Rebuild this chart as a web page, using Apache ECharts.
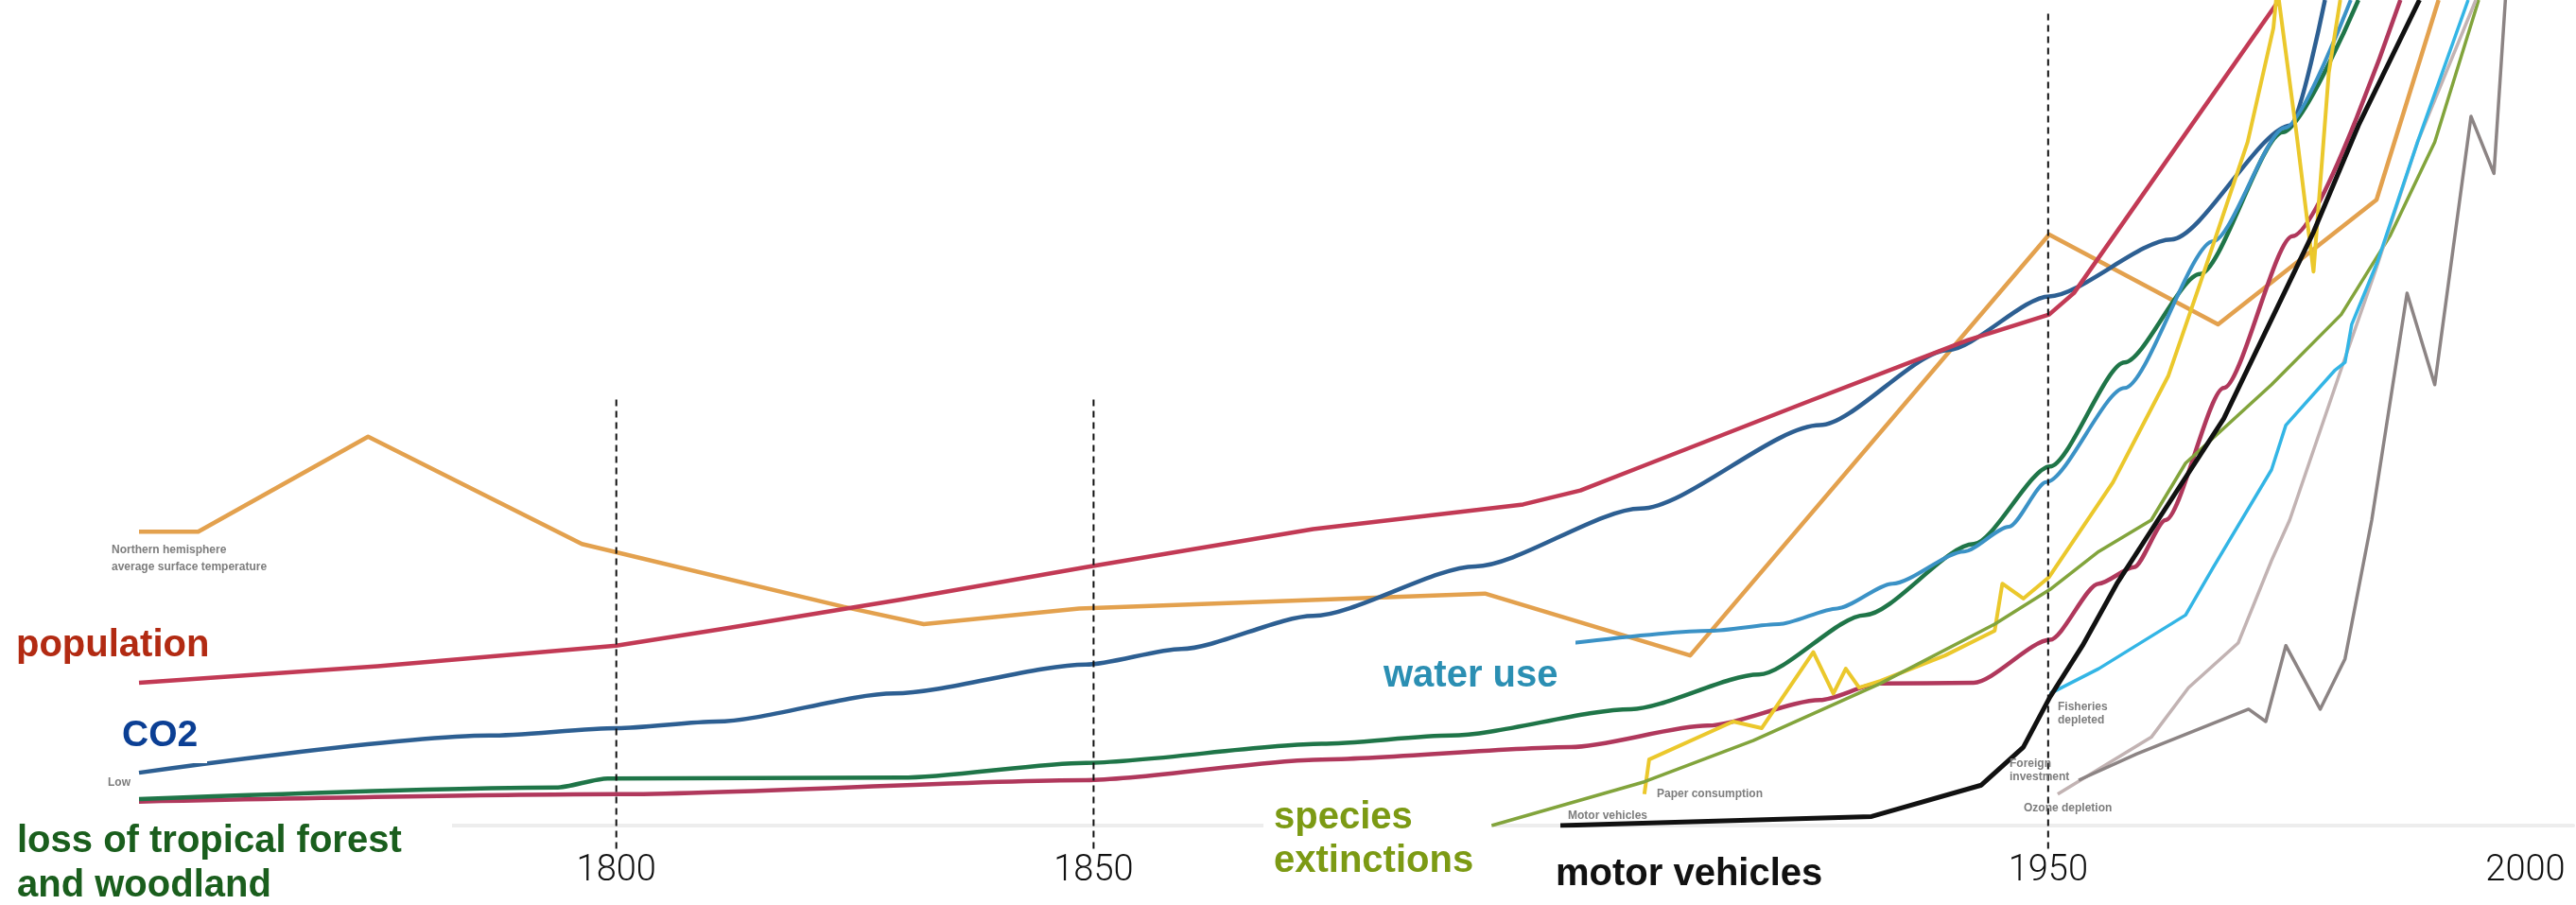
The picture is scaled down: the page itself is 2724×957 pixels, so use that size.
<!DOCTYPE html>
<html>
<head>
<meta charset="utf-8">
<script src="https://cdn.jsdelivr.net/npm/echarts@6/dist/echarts.min.js"></script>
<style>
  html, body { margin: 0; padding: 0; background: #fff; }
  #chart { width: 2724px; height: 957px; }
</style>
</head>
<body>
<div id="chart"></div>
<script>
// values are [year, index]; index 0 = baseline, 100 = top edge
const temperature = [[1750, 35.6], [1756.2, 35.6], [1774, 47.1], [1796.4, 34.1], [1823.8, 26.5], [1832.2, 24.4],
  [1848.5, 26.3], [1891, 28.1], [1912.5, 20.6], [1950.1, 71.6], [1967.8, 60.7], [1984.4, 75.8], [1990.9, 100]];
const population = [[1750, 17.3], [1775, 19.3], [1800, 21.8], [1811, 23.8], [1830, 27.4], [1849.2, 31.3], [1873, 35.9],
  [1895, 38.9], [1901, 40.6], [1907, 43.3], [1924.5, 51.2], [1941.6, 58.8], [1950.1, 61.9], [1952.7, 64.5], [1974.2, 100]];
const co2 = [[1750, 6.4], [1786.7, 10.9], [1800.1, 11.8], [1810.5, 12.6], [1829.1, 16.0], [1849.2, 19.5], [1859.2, 21.4],
  [1873, 25.4], [1890, 31.4], [1907.3, 38.4], [1926.1, 48.5], [1939.5, 57.6], [1950.1, 64.1], [1962.9, 71.0],
  [1975.4, 84.8], [1979, 100]];
const forestLoss = [[1750, 3.2], [1793.7, 4.6], [1799.1, 5.7], [1829.9, 5.8], [1849.2, 7.6], [1873.9, 9.9], [1887.4, 10.9],
  [1906.3, 14.1], [1919.7, 18.3], [1930.8, 25.5], [1942.2, 34.1], [1950.2, 43.5], [1958, 56.1], [1965.9, 66.8],
  [1974.6, 84.0], [1982.5, 100]];
const gdp = [[1750, 2.9], [1800.1, 3.8], [1849.2, 5.5], [1873.9, 8.0], [1900, 9.5], [1914.3, 12.1], [1926.1, 15.2],
  [1932.3, 17.2], [1942.2, 17.3], [1950.2, 22.5], [1955.3, 29.3], [1959, 31.3], [1962.3, 37.0], [1968.4, 53.0],
  [1975.6, 71.4], [1986.9, 100]];
const waterUse = [[1900.1, 22.1], [1914.7, 23.6], [1921.8, 24.4], [1927.9, 26.3], [1933.7, 29.3], [1941.2, 33.2],
  [1945.9, 36.2], [1949.8, 41.6], [1958, 53.0], [1967.3, 70.8], [1974.8, 84.5], [1981.7, 100]];
const paper = [[1907.7, 3.8], [1908.2, 8.0], [1917, 12.6], [1920, 11.8], [1925.4, 21.0], [1927.5, 16.0], [1928.8, 19.0],
  [1930.2, 16.7], [1932.4, 17.5], [1939.2, 20.6], [1944.4, 23.6], [1945.2, 29.3], [1947.4, 27.5], [1950.1, 30.1],
  [1956.8, 41.6], [1962.6, 54.5], [1965.9, 65.6], [1970.9, 82.8], [1973.6, 96.6], [1974, 101.5], [1976, 84.0],
  [1977.8, 67.1], [1979.4, 91.2], [1980.6, 100]];
const extinctions = [[1891.7, 0], [1907.7, 5.3], [1919.1, 10.3], [1932.4, 17.2], [1944.4, 24.4], [1950.2, 28.6],
  [1955.3, 33.2], [1960.8, 37.0], [1964.4, 43.9], [1973.4, 53.4], [1980.7, 61.9], [1985.8, 71.4], [1990.5, 82.8],
  [1995.1, 100]];
const motorVehicles = [[1898.9, 0], [1931.5, 1.1], [1943, 4.9], [1947.4, 9.5], [1950.2, 15.6], [1953.6, 21.8],
  [1957.2, 29.3], [1961.5, 37.0], [1968.4, 49.3], [1977.8, 71.9], [1982.5, 84.8], [1988.9, 100]];
const fisheries = [[1950.2, 16.0], [1955.3, 19.0], [1964.4, 25.5], [1967.3, 31.3], [1973.4, 43.1], [1974.9, 48.5],
  [1980, 55.1], [1981.1, 56.1], [1981.8, 60.7], [1984.5, 68.3], [1988.7, 82.8], [1994, 100]];
const ozone = [[1951, 3.8], [1960.8, 10.7], [1964.7, 16.7], [1969.9, 22.1], [1973.4, 32.1], [1975.3, 37.0],
  [1980.7, 55.3], [1984.4, 67.6], [1988.7, 82.8], [1994.8, 100]];
const investment = [[1953.2, 5.5], [1959.3, 8.7], [1971, 14.1], [1972.8, 12.6], [1974.9, 21.8], [1978.5, 14.1],
  [1981.1, 20.2], [1983.9, 37.0], [1987.6, 64.5], [1990.5, 53.4], [1994.3, 85.9], [1996.7, 79.0], [1997.9, 100]];

const tickLabels = [1800, 1850, 1950, 2000];
const markerYears = [1800, 1850, 1950];
const markerTops = [51.8, 51.8, 98.6];
const markerBottom = -2.8;

let chart = echarts.init(document.getElementById("chart"));

function line(name, data, color, width, smooth) {
  return {
    name: name,
    type: "line",
    data: data,
    showSymbol: false,
    smooth: smooth ? 0.25 : false,
    smoothMonotone: "x",
    lineStyle: { color: color, width: width, join: "round" },
    z: 3,
  };
}

let series = [
  line("temperature", temperature, "#e3a14e", 4.5, false),
  line("gdp", gdp, "#b0385c", 4.5, true),
  line("forest", forestLoss, "#1f7548", 4.5, true),
  line("co2", co2, "#2d5f92", 4.5, true),
  line("population", population, "#c23a55", 4.5, false),
  line("water", waterUse, "#3b92c6", 4, true),
  line("paper", paper, "#ebc82c", 4, false),
  line("extinctions", extinctions, "#82a43c", 3.5, false),
  line("ozone", ozone, "#c2b3b3", 3.5, false),
  line("investment", investment, "#8c8484", 3.5, false),
  line("fisheries", fisheries, "#33b5e5", 3.5, false),
  line("motor", motorVehicles, "#111111", 5, false),
];

// dotted year markers
markerYears.forEach((yr, i) => {
  series.push({
    type: "line",
    data: [[yr, markerBottom], [yr, markerTops[i]]],
    showSymbol: false,
    clip: false,
    silent: true,
    lineStyle: { color: "#111", width: 2, type: [7, 5] },
    z: 4,
  });
});

function box(x, y, w, h) {
  return { type: "rect", shape: { x: x, y: y, width: w, height: h }, style: { fill: "#fff" }, z: 100 };
}
function label(x, y, text, color, size) {
  return {
    type: "text", x: x, y: y, z: 101,
    style: {
      text: text, fill: color, align: "left", verticalAlign: "middle",
      font: "bold " + size + "px 'Liberation Sans', Arial, sans-serif",
    },
  };
}
function small(x, y, text) {
  return {
    type: "text", x: x, y: y, z: 101,
    style: { text: text, fill: "#7d7d7d", verticalAlign: "middle", font: "bold 12px 'Liberation Sans', Arial, sans-serif" },
  };
}

let option = {
  animation: false,
  backgroundColor: "#fff",
  grid: { left: 147, right: 0, top: 0, bottom: 84 },
  xAxis: {
    type: "value",
    min: 1750,
    max: 2005,
    interval: 50,
    axisLine: { show: true, lineStyle: { color: "#ededed", width: 4 } },
    axisTick: { show: false },
    splitLine: { show: false },
    axisLabel: {
      margin: 29,
      fontSize: 38,
      fontWeight: 300,
      fontFamily: "Roboto, 'Liberation Sans', sans-serif",
      color: "#111",
      showMinLabel: false,
      formatter: (v) => (tickLabels.indexOf(v) >= 0 ? String(v) : ""),
    },
  },
  yAxis: { type: "value", min: 0, max: 100, show: false },
  series: series,
  graphic: [
    box(0, 645, 234, 62),
    box(113, 735, 106, 72),
    box(0, 852, 478, 105),
    box(1432, 672, 234, 71),
    box(1336, 818, 241, 139),
    label(17, 683, "population", "#b22a12", 40),
    label(129, 778, "CO2", "#0b3f94", 39),
    label(18, 890, "loss of tropical forest", "#1a5e1d", 40),
    label(18, 937, "and woodland", "#1a5e1d", 40),
    label(1463, 715, "water use", "#2b8fb3", 40),
    label(1347, 865, "species", "#7c9a14", 40),
    label(1347, 911, "extinctions", "#7c9a14", 40),
    label(1645, 925, "motor vehicles", "#111", 40),
    small(118, 582, "Northern hemisphere"),
    small(118, 600, "average surface temperature"),
    small(114, 828, "Low"),
    small(1752, 840, "Paper consumption"),
    small(1658, 863, "Motor vehicles"),
    small(2176, 748, "Fisheries"),
    small(2176, 762, "depleted"),
    small(2125, 808, "Foreign"),
    small(2125, 822, "investment"),
    small(2140, 855, "Ozone depletion"),
  ],
};
chart.setOption(option);
window.addEventListener("resize", () => {
  chart.resize();
});
</script>
</body>
</html>
